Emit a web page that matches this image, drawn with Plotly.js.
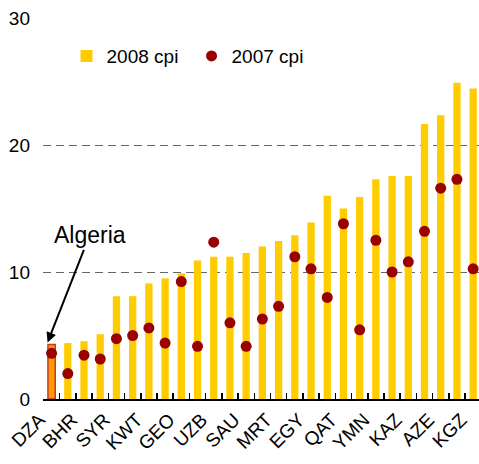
<!DOCTYPE html>
<html>
<head>
<meta charset="utf-8">
<script src="https://cdn.plot.ly/plotly-3.0.1.min.js"></script>
<style>html,body{margin:0;padding:0;background:#fff;}</style>
</head>
<body>
<div id="chart" style="width:479px;height:464px;"></div>
<script>
// 2008 CPI inflation (bars)
const cpi2008 = [4.3, 4.4, 4.55, 5.1, 8.1, 8.1, 9.1, 9.5, 9.9, 10.9, 11.2, 11.2, 11.5, 12.0,
                 12.45, 12.9, 13.9, 16.0, 15.0, 15.9, 17.3, 17.55, 17.55, 21.65, 22.35, 24.9, 24.45];
// 2007 CPI inflation (dots)
const cpi2007 = [3.6, 2.0, 3.45, 3.15, 4.75, 5.0, 5.6, 4.4, 9.25, 4.15, 12.35, 6.0, 4.15, 6.3,
                 7.3, 11.2, 10.25, 8.0, 13.8, 5.45, 12.5, 10.0, 10.8, 13.2, 16.6, 17.3, 10.25];
// Country labels shown on the axis (every other country)
const tickLabels = ['DZA','BHR','SYR','KWT','GEO','UZB','SAU','MRT','EGY','QAT','YMN','KAZ','AZE','KGZ'];
const labelStep = 2;
const highlightIndex = 0; // Algeria
const yTicks = [0, 10, 20, 30];

const idx = cpi2008.map((_, i) => i);
const tickPositions = tickLabels.map((_, k) => k * labelStep);
const boundaries = [];
for (let i = 0; i <= cpi2008.length; i++) boundaries.push(i - 0.5);

const FONT = 'Liberation Sans, Arial, sans-serif';
const barWidth = 0.45;
const xRange = [-0.53, 26.36];

const traces = [
  {
    type: 'bar', name: '2008 cpi', x: idx, y: cpi2008, width: barWidth,
    marker: {color: '#FFCC00', line: {width: 0}}
  },
  {
    type: 'bar', name: 'Algeria', showlegend: false,
    x: [idx[highlightIndex]], y: [cpi2008[highlightIndex]], width: barWidth,
    marker: {color: '#FF9900', line: {color: '#C0392B', width: 1.5}}
  },
  {
    type: 'scatter', mode: 'markers', name: '2007 cpi', x: idx, y: cpi2007,
    xaxis: 'x2', yaxis: 'y',
    marker: {color: '#990000', size: 11, line: {width: 0}}
  }
];

const layout = {
  width: 479, height: 464,
  margin: {l: 43, r: 0, t: 18, b: 65, pad: 0},
  paper_bgcolor: '#fff', plot_bgcolor: '#fff',
  font: {family: FONT, size: 19, color: '#000'},
  barmode: 'overlay',
  showlegend: true,
  legend: {
    orientation: 'h', x: 0.054, xanchor: 'left', y: 0.9, yanchor: 'middle',
    entrywidth: 80, entrywidthmode: 'pixels',
    bgcolor: 'rgba(0,0,0,0)', font: {family: FONT, size: 19, color: '#000'},
    traceorder: 'normal'
  },
  // main axis: the line and the boundary tick marks
  xaxis: {
    range: xRange, tickmode: 'array', tickvals: boundaries,
    ticks: 'inside', ticklen: 6, tickwidth: 1.5, tickcolor: '#000',
    showticklabels: false, showgrid: false, zeroline: false,
    showline: true, linecolor: '#000', linewidth: 1.5,
    layer: 'above traces', fixedrange: true
  },
  // overlay axis: the country labels
  xaxis2: {
    overlaying: 'x', anchor: 'y', side: 'bottom', range: xRange,
    tickmode: 'array', tickvals: tickPositions, ticktext: tickLabels,
    tickangle: -45, ticks: '', ticklabelshift: -12, ticklabelstandoff: 5,
    tickfont: {family: FONT, size: 19, color: '#000'},
    showgrid: false, zeroline: false, showline: false, fixedrange: true
  },
  yaxis: {
    range: [0, 30], tickmode: 'array', tickvals: yTicks, ticks: '',
    showgrid: true, gridcolor: '#666', gridwidth: 1, griddash: '8px,5px',
    zeroline: false, showline: false, ticklabelstandoff: 12,
    tickfont: {family: FONT, size: 19, color: '#000'}, fixedrange: true
  },
  annotations: [{
    x: idx[highlightIndex], y: cpi2008[highlightIndex], xref: 'x', yref: 'y',
    text: 'Algeria', showarrow: true, arrowhead: 2, arrowsize: 1, arrowwidth: 2,
    arrowcolor: '#000', ax: 42, ay: -107, xshift: -4, yshift: 2,
    font: {family: FONT, size: 23, color: '#000'}
  }]
};

Plotly.newPlot('chart', traces, layout, {displayModeBar: false, staticPlot: true});
</script>
</body>
</html>
